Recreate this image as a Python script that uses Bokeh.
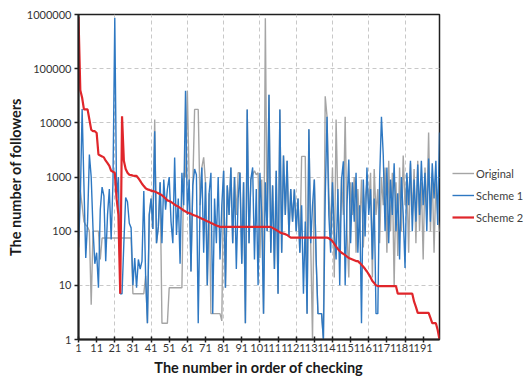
from bokeh.plotting import figure
from bokeh.layouts import row
from bokeh.models import Range1d, FixedTicker, CustomJSTickFormatter, Legend, LegendItem
from bokeh.embed import file_html
from bokeh.resources import INLINE

x = list(range(1, 201))

original = [
    550, 550, 300, 150, 130, 120, 100, 4.4, 100, 100,
    100, 100, 30, 75, 75, 75, 75, 75, 75, 75,
    75, 75, 75, 75, 75, 75, 75, 75, 75, 75,
    7, 7, 7, 7, 7, 7, 7, 15, 2, 200,
    400, 110, 11500, 60, 120, 800, 2, 2, 2, 2,
    9, 9, 9, 9, 9, 9, 9, 9, 1200, 1000,
    39000, 900, 18, 700, 17700, 17700, 17700, 300, 1500, 2300,
    800, 10, 500, 3, 3, 3, 3, 3, 3, 2.2,
    1300, 9, 700, 200, 1500, 60, 1000, 200, 1200, 1200,
    25, 800, 2, 17700, 60, 900, 1100, 1300, 1100, 1200,
    32, 900, 3, 850000, 100, 33000, 40, 700, 20, 1300,
    7, 17700, 40, 2500, 200, 2000, 80, 600, 150, 590,
    100, 400, 40, 2400, 2400, 2400, 3, 7600, 60, 1,
    900, 30, 3, 3, 3, 1, 31000, 13000, 500, 100,
    1500, 14, 11500, 300, 60, 1000, 200, 13000, 100, 14,
    800, 200, 1000, 40, 600, 100, 900, 50, 400, 800,
    300, 1200, 14, 1400, 200, 600, 60, 1000, 300, 1500,
    40, 2000, 100, 1200, 10, 800, 35, 1500, 100, 2500,
    300, 1000, 40, 1800, 200, 1400, 60, 2000, 100, 800,
    30, 1500, 200, 6600, 100, 1200, 40, 900, 200, 100,
]

scheme1 = [
    50, 400, 18000, 700, 32, 150, 2600, 1000, 110, 25,
    40, 9, 250, 650, 450, 28, 200, 600, 70, 800,
    870000, 400, 1000, 7, 7, 60, 420, 350, 140, 115,
    10, 32, 9, 30, 20, 28, 550, 15, 2, 200,
    400, 110, 7000, 60, 120, 800, 60, 900, 250, 600,
    1000, 150, 60, 2300, 85, 400, 25, 1200, 300, 39000,
    200, 900, 18, 700, 1400, 1100, 2, 300, 1500, 40,
    800, 10, 500, 1200, 3, 400, 60, 1000, 30, 300,
    1300, 9, 700, 200, 1500, 60, 1000, 20, 400, 1200,
    25, 800, 2, 17700, 60, 900, 1500, 30, 600, 10,
    1200, 200, 3, 800, 100, 33000, 40, 700, 20, 1300,
    7, 17700, 40, 2500, 200, 2000, 80, 600, 150, 590,
    100, 400, 40, 300, 7, 150, 3, 7600, 60, 300,
    900, 30, 3, 3, 3, 1, 400, 13000, 200, 40,
    800, 100, 30, 600, 10, 900, 1950, 10, 300, 2100,
    60, 800, 150, 1200, 40, 300, 2, 900, 80, 1500,
    200, 600, 30, 400, 3, 3, 900, 13000, 2500, 100,
    1500, 60, 900, 200, 1800, 100, 500, 30, 1000, 200,
    21, 1200, 300, 2000, 100, 900, 150, 1700, 200, 2000,
    300, 1200, 100, 2200, 150, 1800, 400, 2000, 130, 6600,
]

scheme2 = [
    900000, 40000, 29000, 17700, 17700, 17700, 11500, 7500, 7000, 7000,
    6500, 2600, 2500, 2400, 2300, 2000, 1800, 1600, 1300, 1250,
    1200, 400, 200, 7, 13200, 2000, 1400, 1200, 1100, 1080,
    1060, 1050, 1050, 950, 850, 750, 680, 620, 590, 580,
    560, 550, 540, 520, 500, 480, 460, 430, 400, 370,
    360, 345, 330, 310, 295, 285, 270, 255, 240, 230,
    220, 215, 210, 200, 195, 190, 183, 177, 170, 165,
    158, 152, 147, 142, 137, 132, 127, 124, 120, 120,
    120, 120, 120, 120, 120, 120, 120, 120, 120, 120,
    120, 120, 120, 120, 120, 120, 120, 120, 120, 120,
    120, 120, 120, 120, 120, 120, 120, 115, 110, 105,
    100, 95, 92, 90, 88, 85, 80, 76, 76, 76,
    76, 76, 76, 76, 76, 76, 76, 76, 76, 76,
    76, 76, 76, 76, 76, 76, 76, 76, 74, 70,
    65, 58, 52, 47, 43, 40, 38, 36, 34, 32,
    31, 30, 29, 28, 28, 26, 24, 22, 20, 18,
    16, 14, 12, 11, 10, 9.7, 9.7, 9.7, 9.7, 9.7,
    9.7, 9.7, 9.7, 9.7, 9.7, 9.7, 7, 7, 7, 7,
    7, 7, 7, 7, 7, 5, 4, 3.1, 3.1, 3.1,
    3.1, 3.1, 3.1, 3.1, 2.5, 2, 2, 2, 1.5, 1,
]

x_ticks = list(range(1, 200, 10))
x_grid = list(range(21, 200, 20))
y_ticks = [1, 10, 100, 1000, 10000, 100000, 1000000]
series_names = ["Original", "Scheme 1", "Scheme 2"]
series_colors = ["#A5A5A5", "#2E78C2", "#E0262B"]
series_widths = [1.4, 1.4, 2.2]
series_values = [original, scheme1, scheme2]

FONT = "Lato"
H = 378

p = figure(width=441, height=H, x_range=Range1d(1, 200), y_range=Range1d(1, 1e6),
           y_axis_type="log", output_backend="svg", toolbar_location=None,
           min_border_left=78, min_border_right=2, min_border_top=14, min_border_bottom=34)

p.outline_line_color = "#202020"
p.outline_line_width = 1.5
p.background_fill_color = "white"
p.border_fill_color = "white"

for vals, c, w in zip(series_values, series_colors, series_widths):
    p.line(x, vals, line_color=c, line_width=w)

# axes
p.xaxis.ticker = FixedTicker(ticks=x_ticks)
p.yaxis.ticker = FixedTicker(ticks=y_ticks)
p.yaxis.formatter = CustomJSTickFormatter(code="return Math.round(tick).toString();")
for ax in (p.xaxis[0], p.yaxis[0]):
    ax.axis_line_color = "#202020"
    ax.axis_line_width = 2
    ax.major_tick_line_color = "#202020"
    ax.major_tick_line_width = 1.5
    ax.minor_tick_line_color = None
    ax.major_label_text_font = FONT
    ax.major_label_text_font_size = "11px"
    ax.major_label_text_color = "#333333"
    ax.axis_label_text_font = FONT
    ax.axis_label_text_font_style = "bold"
    ax.axis_label_text_font_size = "14.5px"
    ax.axis_label_text_color = "#1a1a1a"

p.xaxis.major_tick_in = 3
p.xaxis.major_tick_out = 3
p.xaxis.major_label_standoff = 1
p.xaxis.axis_label = "The number in order of checking"
p.xaxis.axis_label_standoff = 4

p.yaxis.major_tick_in = 0
p.yaxis.major_tick_out = 4
p.yaxis.major_label_standoff = 3
p.yaxis.axis_label = "The number of followers"
p.yaxis.axis_label_standoff = 0

# grids
p.xgrid.ticker = FixedTicker(ticks=x_grid)
p.ygrid.ticker = FixedTicker(ticks=y_ticks[1:-1])
for g in (p.xgrid[0], p.ygrid[0]):
    g.grid_line_color = "#C8C8C8"
    g.grid_line_dash = "4 3"
    g.grid_line_width = 1

# legend figure (same series drawn outside its visible ranges, so only the legend shows)
q = figure(width=86, height=H, x_range=Range1d(-2, -1), y_range=Range1d(-2, -1),
           x_axis_type=None, y_axis_type=None, output_backend="svg", toolbar_location=None,
           min_border_left=0, min_border_right=0, min_border_top=0, min_border_bottom=0)
q.outline_line_color = None
q.xgrid.visible = False
q.ygrid.visible = False
leg_renderers = [q.line(x, vals, line_color=c, line_width=w)
                 for vals, c, w in zip(series_values, series_colors, series_widths)]
legend = Legend(items=[LegendItem(label=n, renderers=[r]) for n, r in zip(series_names, leg_renderers)],
                location=(11, 112), orientation="vertical",
                border_line_color=None, background_fill_alpha=0,
                glyph_width=22, glyph_height=20, spacing=2, padding=0, margin=0,
                label_standoff=2, label_text_font=FONT, label_text_font_size="11px",
                label_text_color="#404040")
q.add_layout(legend, "center")

layout = row(p, q)
open("out.html", "w").write(file_html(layout, INLINE))
